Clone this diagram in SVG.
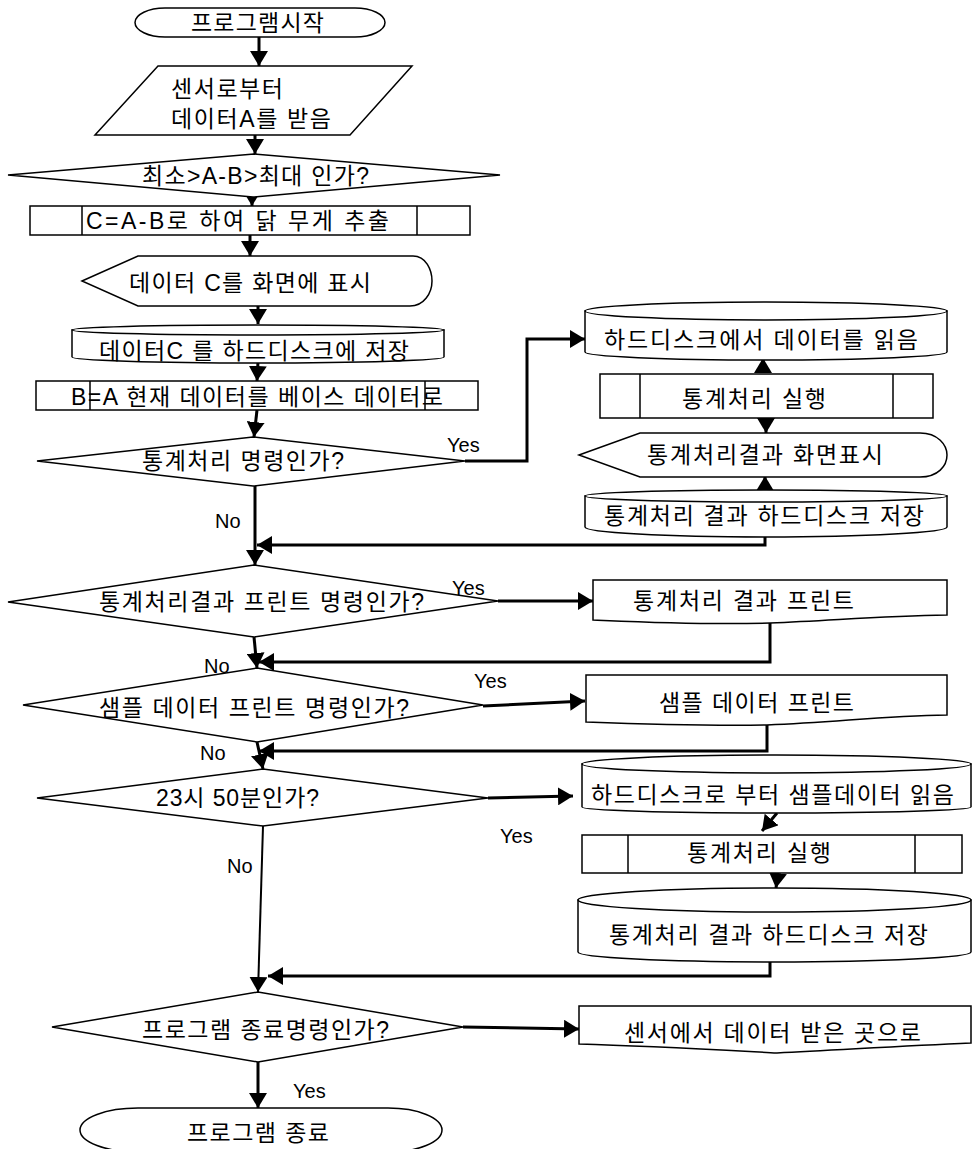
<svg xmlns="http://www.w3.org/2000/svg" width="973" height="1149" viewBox="0 0 973 1149">
<style>
.s{fill:#fff;stroke:#000;stroke-width:1.5;stroke-linejoin:miter}
.ln{fill:none;stroke:#000;stroke-width:1.5}
.t{font-family:"Liberation Sans","Noto Sans CJK KR",sans-serif;font-size:23px;fill:#000;text-anchor:middle}
.ts{font-family:"Liberation Sans","Noto Sans CJK KR",sans-serif;font-size:23px;fill:#000;text-anchor:start}
.lb{font-family:"Liberation Sans",Arial,sans-serif;font-size:20px;fill:#000}
.c{fill:none;stroke:#000;stroke-width:3;marker-end:url(#ah)}
.c2{fill:none;stroke:#000;stroke-width:2;marker-end:url(#ah)}
</style>
<defs>
<marker id="ah" markerUnits="userSpaceOnUse" markerWidth="15" markerHeight="18" viewBox="0 0 15 18" refX="15" refY="9" orient="auto">
<path d="M0,0 L15,9 L0,18 z" fill="#000"/>
</marker>
</defs>
<rect width="973" height="1149" fill="#fff"/>

<g id="connectors">
<path class="c" d="M259,37 L259,66"/>
<path class="c" d="M255,135 L255,154"/>
<path class="c" d="M252,190 L252,206"/>
<path class="c" d="M250,235 L250,256"/>
<path class="c" d="M258,306 L258,324"/>
<path class="c" d="M258,362 L257,381"/>
<path class="c" d="M257,410 L254,437"/>
<path class="c" d="M465,461 L527,461 L527,339 L585,339"/>
<path class="c" d="M763,372 L763,358"/>
<path class="c" d="M766,418 L766,433"/>
<path class="c" d="M765,490 L765,476"/>
<path class="c" d="M255,486 L255,565"/>
<path class="c" d="M765,537 L765,545 L257,545"/>
<path class="c" d="M498,601 L593,601"/>
<path class="c" d="M770,623 L770,662 L259,662"/>
<path class="c" d="M254,637 L257,668"/>
<path class="c" d="M483,706 L585,701"/>
<path class="c" d="M767,725 L767,751 L259,751"/>
<path class="c" d="M257,742 L263,769"/>
<path class="c" d="M488,798 L573,796"/>
<path class="c" d="M777,813 L762,831"/>
<path class="c" d="M778,873 L776,888"/>
<path class="c2" d="M263,826 L258,992"/>
<path class="c" d="M770,960 L770,976 L268,976"/>
<path class="c" d="M463,1027 L579,1029"/>
<path class="c" d="M258,1062 L258,1108"/>
</g>

<g id="n-start">
<path class="s" d="M165,8 H355 A30,14.5 0 0 1 355,37 H165 A30,14.5 0 0 1 165,8 Z"/>
<text class="t" x="257.5" y="31" textLength="133">프로그램시작</text>
</g>

<g id="n-input">
<path class="s" d="M158,66 L412,66 L350,135 L95,135 Z"/>
<text class="ts" x="171" y="97" textLength="112">센서로부터</text>
<text class="ts" x="171" y="127" textLength="160">데이터A를 받음</text>
</g>

<g id="n-d1">
<path class="s" d="M8,175 L254,154 L500,175 L253,197 Z"/>
<text class="t" x="255.5" y="184" textLength="227">최소&gt;A-B&gt;최대 인가?</text>
</g>

<g id="n-p1">
<rect class="s" x="30" y="206" width="440" height="29"/>
<path class="ln" d="M82,206 V235 M417,206 V235"/>
<text class="t" x="237.5" y="229" textLength="303">C=A-B로 하여 닭 무게 추출</text>
</g>

<g id="n-disp1">
<path class="s" d="M82,281 L138,256 L413,256 C426,256 432,270 432,281 C432,293 424,306 410,306 L138,306 Z"/>
<text class="t" x="250" y="291" textLength="242">데이터 C를 화면에 표시</text>
</g>

<g id="n-cyl1">
<path class="s" d="M72,330 L72,357 A186,6 0 0 0 444,357 L444,330 Z"/>
<ellipse class="s" cx="258" cy="330" rx="186" ry="5"/>
<text class="t" x="254" y="359" textLength="310">데이터C 를 하드디스크에 저장</text>
</g>

<g id="n-p2">
<rect class="s" x="36" y="381" width="442" height="29"/>
<path class="ln" d="M90,381 V410 M425,381 V410"/>
<text class="t" x="257" y="405" textLength="372">B=A 현재 데이터를 베이스 데이터로</text>
</g>

<g id="n-d2">
<path class="s" d="M37,461 L253,437 L465,461 L253,486 Z"/>
<text class="t" x="243" y="469" textLength="202">통계처리 명령인가?</text>
</g>

<g id="n-rcyl1">
<path class="s" d="M585,311 L585,352 A181,8 0 0 0 947,352 L947,311 Z"/>
<ellipse class="s" cx="766" cy="311" rx="181" ry="9"/>
<text class="t" x="761" y="348" textLength="314">하드디스크에서 데이터를 읽음</text>
</g>

<g id="n-rp1">
<rect class="s" x="600" y="374" width="333" height="44"/>
<path class="ln" d="M640,374 V418 M893,374 V418"/>
<text class="t" x="754" y="407" textLength="144">통계처리 실행</text>
</g>

<g id="n-rdisp">
<path class="s" d="M579,455 L640,433 L920,433 C938,433 947,445 947,455 C947,466 938,477 920,477 L640,477 Z"/>
<text class="t" x="765" y="463" textLength="236">통계처리결과 화면표시</text>
</g>

<g id="n-rcyl2">
<path class="s" d="M585,496 L585,527 A181,10 0 0 0 947,527 L947,496 Z"/>
<ellipse class="s" cx="766" cy="496" rx="181" ry="6"/>
<text class="t" x="764" y="524" textLength="320">통계처리 결과 하드디스크 저장</text>
</g>

<g id="n-d3">
<path class="s" d="M8,602 L254,565 L498,601 L254,637 Z"/>
<text class="t" x="261.5" y="610" textLength="325">통계처리결과 프린트 명령인가?</text>
</g>

<g id="n-doc1">
<path class="s" d="M593,580 H947 V615 C880,616 840,620 770,623 C700,625 640,622 593,620 Z"/>
<text class="t" x="743.5" y="609" textLength="221">통계처리 결과 프린트</text>
</g>

<g id="n-d4">
<path class="s" d="M23,705 L257,668 L483,705 L257,742 Z"/>
<text class="t" x="254" y="716" textLength="310">샘플 데이터 프린트 명령인가?</text>
</g>

<g id="n-doc2">
<path class="s" d="M586,675 H947 V715 C880,716 840,722 767,725 C700,726 640,724 586,722 Z"/>
<text class="t" x="756.5" y="711" textLength="195">샘플 데이터 프린트</text>
</g>

<g id="n-d5">
<path class="s" d="M37,798 L263,769 L488,798 L263,826 Z"/>
<text class="t" x="237.5" y="806" textLength="163">23시 50분인가?</text>
</g>

<g id="n-rcyl3">
<path class="s" d="M582,764 L582,807 A194.5,6 0 0 0 971,807 L971,764 Z"/>
<ellipse class="s" cx="776.5" cy="764" rx="194.5" ry="9"/>
<text class="t" x="772.5" y="803" textLength="363">하드디스크로 부터 샘플데이터 읽음</text>
</g>

<g id="n-rp2">
<rect class="s" x="582" y="835" width="380" height="38"/>
<path class="ln" d="M628,835 V873 M915,835 V873"/>
<text class="t" x="759" y="861" textLength="144">통계처리 실행</text>
</g>

<g id="n-rcyl4">
<path class="s" d="M578,900 L578,952 A196.5,10 0 0 0 971,952 L971,900 Z"/>
<ellipse class="s" cx="774.5" cy="900" rx="196.5" ry="12"/>
<text class="t" x="768.5" y="943" textLength="319">통계처리 결과 하드디스크 저장</text>
</g>

<g id="n-d6">
<path class="s" d="M52,1027 L258,992 L463,1027 L258,1062 Z"/>
<text class="t" x="265.5" y="1038" textLength="247">프로그램 종료명령인가?</text>
</g>

<g id="n-doc3">
<path class="s" d="M579,1006 H971 V1043 C900,1046 840,1050 777,1053 C720,1050 650,1046 579,1044 Z"/>
<text class="t" x="772.5" y="1041" textLength="297">센서에서 데이터 받은 곳으로</text>
</g>

<g id="n-end">
<path class="s" d="M138,1108 H388 A54,22 0 0 1 388,1152 H138 A58,22 0 0 1 138,1108 Z"/>
<text class="t" x="258" y="1141" textLength="142">프로그램 종료</text>
</g>

<g id="labels">
<text class="lb" x="447" y="452">Yes</text>
<text class="lb" x="215" y="528">No</text>
<text class="lb" x="452" y="595">Yes</text>
<text class="lb" x="204" y="673">No</text>
<text class="lb" x="474" y="688">Yes</text>
<text class="lb" x="200" y="760">No</text>
<text class="lb" x="500" y="843">Yes</text>
<text class="lb" x="227" y="873">No</text>
<text class="lb" x="293" y="1098">Yes</text>
</g>
</svg>
